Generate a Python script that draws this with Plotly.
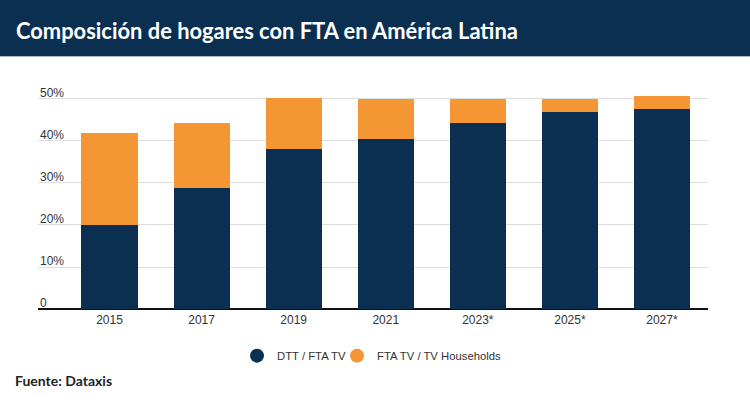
import plotly.graph_objects as go

years = ["2015", "2017", "2019", "2021", "2023*", "2025*", "2027*"]
dtt_fta = [20.0, 28.7, 38.0, 40.4, 44.4, 46.8, 47.6]
fta_tv = [21.9, 15.6, 12.3, 9.6, 5.6, 3.2, 3.2]
ytick_vals = [0, 10, 20, 30, 40, 50]
ytick_text = ["0", "10%", "20%", "30%", "40%", "50%"]

NAVY = "#0b2f51"
ORANGE = "#f49633"

W, H = 750, 400
L, R, T, B = 38, 42, 80, 90.7
ph = H - T - B

def py(Y):
    return (H - B - Y) / ph

def px(X):
    return (X - L) / (W - L - R)

xpos = list(range(len(years)))

fig = go.Figure()
fig.add_trace(go.Bar(x=xpos, y=dtt_fta, marker=dict(color=NAVY, line=dict(width=0)),
                     width=0.61, showlegend=False, name="DTT / FTA TV"))
fig.add_trace(go.Bar(x=xpos, y=fta_tv, marker=dict(color=ORANGE, line=dict(width=0)),
                     width=0.61, showlegend=False, name="FTA TV / TV Households"))
fig.add_trace(go.Scatter(x=[None], y=[None], mode="markers", name="DTT / FTA TV",
                         marker=dict(symbol="circle", size=14, color=NAVY), legend="legend"))
fig.add_trace(go.Scatter(x=[None], y=[None], mode="markers", name="FTA TV / TV Households",
                         marker=dict(symbol="circle", size=14, color=ORANGE), legend="legend2"))

shapes = [
    dict(type="rect", xref="paper", yref="paper", x0=px(0), x1=px(W),
         y0=py(56), y1=py(-2), fillcolor=NAVY, line=dict(width=0), layer="above"),
    dict(type="line", xref="paper", yref="paper", x0=px(0), x1=px(W),
         y0=py(56.5), y1=py(56.5), line=dict(color="#a9b8c8", width=1)),
]

annotations = [
    dict(text="<b>Composición de hogares con FTA en América Latina</b>", xref="paper", yref="paper",
         x=px(14), y=py(30), xanchor="left", yanchor="middle", showarrow=False,
         font=dict(family="Lato, sans-serif", size=21.9, color="white")),
    dict(text="<b>Fuente: Dataxis</b>", xref="paper", yref="paper",
         x=px(13), y=py(381), xanchor="left", yanchor="middle", showarrow=False,
         font=dict(family="Lato, sans-serif", size=14, color="#222")),
]
for v, t in zip(ytick_vals, ytick_text):
    annotations.append(dict(text=t, xref="paper", yref="y", x=0, y=v, xanchor="left",
                            yanchor="bottom", yshift=-3, xshift=0, showarrow=False,
                            font=dict(family="Liberation Sans, Arial, sans-serif", size=12, color="#333")))

legend_common = dict(orientation="h", y=py(356), xanchor="left", yanchor="middle",
                     font=dict(size=11.3, color="#333"), itemwidth=30,
                     bgcolor="rgba(0,0,0,0)")

fig.update_layout(
    width=W, height=H, barmode="stack", bargap=0.39,
    margin=dict(l=L, r=R, t=T, b=B),
    paper_bgcolor="white", plot_bgcolor="white",
    shapes=shapes, annotations=annotations,
    font=dict(family="Liberation Sans, Arial, sans-serif", size=12, color="#333"),
    xaxis=dict(range=[-0.777, 6.5], tickvals=xpos, ticktext=years, showgrid=False,
               showline=False, zeroline=False, ticks="", tickfont=dict(size=12, color="#333"),
               ticklabelstandoff=2, fixedrange=True),
    yaxis=dict(range=[0, (H - B - T) / 4.206], tickvals=ytick_vals, showticklabels=False,
               showgrid=True, gridcolor="#dddddd", gridwidth=1, zeroline=True,
               zerolinecolor="#111", zerolinewidth=2, showline=False, fixedrange=True),
    legend=dict(x=px(237), **legend_common),
    legend2=dict(x=px(337), **legend_common),
)

fig.write_html("out.html")
